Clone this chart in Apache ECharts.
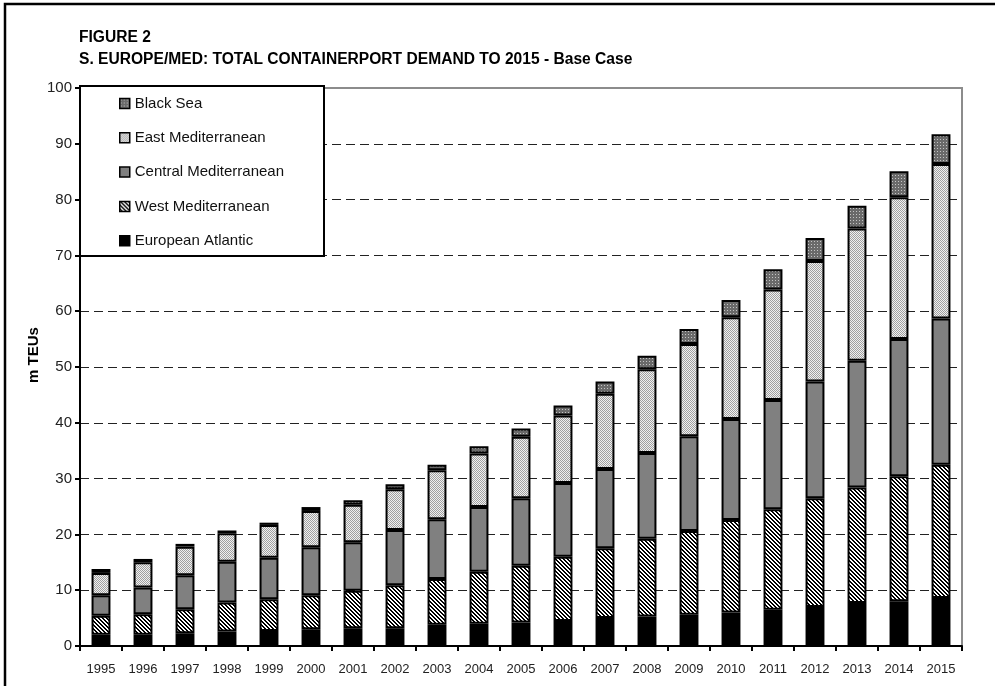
<!DOCTYPE html>
<html>
<head>
<meta charset="utf-8">
<script src="https://cdn.jsdelivr.net/npm/echarts@6/dist/echarts.min.js"></script>
<style>html,body{margin:0;padding:0;background:#fff}#c{width:995px;height:686px}</style>
</head>
<body>
<div id="c"></div>
<script>
const years = ['1995','1996','1997','1998','1999','2000','2001','2002','2003','2004','2005','2006','2007','2008','2009','2010','2011','2012','2013','2014','2015'];
const europeanAtlantic = [2.0, 2.0, 2.3, 2.6, 2.7, 3.0, 3.2, 3.2, 3.8, 4.0, 4.2, 4.5, 5.0, 5.3, 5.6, 6.0, 6.5, 7.0, 7.7, 8.0, 8.6];
const westMed = [3.4, 3.7, 4.3, 5.2, 5.7, 6.1, 6.7, 7.7, 8.2, 9.3, 10.2, 11.5, 12.5, 13.9, 15.0, 16.6, 18.0, 19.5, 20.7, 22.4, 23.9];
const centralMed = [3.7, 4.8, 6.1, 7.3, 7.4, 8.6, 8.7, 9.9, 10.7, 11.6, 12.1, 13.2, 14.2, 15.4, 17.0, 18.1, 19.6, 20.9, 22.7, 24.6, 26.2];
const eastMed = [4.0, 4.5, 5.1, 5.1, 5.9, 6.5, 6.7, 7.3, 8.8, 9.6, 11.0, 12.1, 13.5, 15.0, 16.5, 18.2, 19.8, 21.6, 23.7, 25.4, 27.7];
const blackSea = [0.7, 0.6, 0.5, 0.5, 0.4, 0.7, 0.8, 0.9, 1.0, 1.3, 1.5, 1.8, 2.2, 2.4, 2.7, 3.1, 3.6, 4.1, 4.1, 4.7, 5.3];
const yTicks = [0, 10, 20, 30, 40, 50, 60, 70, 80, 90, 100];

const FONT = '"Liberation Sans", Arial, sans-serif';

function makePattern(size, bg, draw) {
  const cv = document.createElement('canvas');
  cv.width = size; cv.height = size;
  const ctx = cv.getContext('2d');
  ctx.fillStyle = bg; ctx.fillRect(0, 0, size, size);
  draw(ctx);
  return { image: cv, repeat: 'repeat' };
}
const westPattern = makePattern(4, '#ffffff', ctx => {
  ctx.fillStyle = '#000';
  for (let i = 0; i < 4; i++) { ctx.fillRect(i, i, 1, 1); ctx.fillRect((i + 1) % 4, i, 1, 1); }
});
const eastPattern = makePattern(2, '#f0f0f0', ctx => {
  ctx.fillStyle = '#a0a0a0';
  ctx.fillRect(0, 0, 1, 1); ctx.fillRect(1, 1, 1, 1);
});
const blackSeaPattern = makePattern(3, '#6a6a6a', ctx => {
  ctx.fillStyle = '#c4c4c4';
  ctx.fillRect(1, 1, 1, 1);
});

const border = { borderColor: '#000', borderWidth: 2 };
function barSeries(name, data, color) {
  return { name, type: 'bar', stack: 'total', data, barWidth: '45%',
    itemStyle: Object.assign({ color }, border), emphasis: { disabled: true } };
}

const chart = echarts.init(document.getElementById('c'), null, { renderer: 'canvas' });
chart.setOption({
  backgroundColor: '#fff',
  animation: false,
  textStyle: { fontFamily: FONT },
  grid: { left: 80, right: 33, top: 88, bottom: 40, show: true, borderColor: '#8c8c8c', borderWidth: 2, backgroundColor: 'transparent' },
  legend: {
    orient: 'vertical', left: 119, top: 96, padding: 0, itemGap: 19.3,
    itemWidth: 10, itemHeight: 10, z: 20, icon: 'rect',
    data: ['Black Sea', 'East Mediterranean', 'Central Mediterranean', 'West Mediterranean', 'European Atlantic'],
    itemStyle: { borderColor: '#000', borderWidth: 1.5 },
    textStyle: { fontSize: 15, color: '#111', fontFamily: FONT, lineHeight: 15 },
    selectedMode: false
  },
  xAxis: {
    type: 'category', data: years,
    axisLine: { lineStyle: { color: '#000', width: 2 } },
    axisTick: { show: true, length: 5, lineStyle: { color: '#000', width: 2 } },
    axisLabel: { fontSize: 13, color: '#222', margin: 17, interval: 0, fontFamily: FONT }
  },
  yAxis: {
    type: 'value', min: yTicks[0], max: yTicks[yTicks.length - 1], interval: 10,
    axisLine: { show: true, lineStyle: { color: '#000', width: 2 } },
    axisTick: { show: true, length: 5, lineStyle: { color: '#000', width: 2 } },
    axisLabel: { fontSize: 15, color: '#222', margin: 8, fontFamily: FONT },
    splitLine: { show: true, showMinLine: false, showMaxLine: false, lineStyle: { color: '#222', width: 1, type: [9, 5] } }
  },
  graphic: [
    { type: 'rect', shape: { x: 5, y: 4, width: 1100, height: 800 }, style: { fill: 'none', stroke: '#000', lineWidth: 2.5 }, z: 1, silent: true },
    { type: 'text', x: 79, y: 38, style: { text: 'FIGURE 2', fontSize: 15.6, fontWeight: 'bold', fontFamily: FONT, fill: '#000', verticalAlign: 'middle' }, z: 5 },
    { type: 'text', x: 79, y: 60, style: { text: 'S. EUROPE/MED: TOTAL CONTAINERPORT DEMAND TO 2015 - Base Case', fontSize: 15.6, fontWeight: 'bold', fontFamily: FONT, fill: '#000', verticalAlign: 'middle' }, z: 5 },
    { type: 'text', x: 34, y: 355, rotation: Math.PI / 2, style: { text: 'm TEUs', fontSize: 15, fontWeight: 'bold', fontFamily: FONT, fill: '#000', align: 'center', verticalAlign: 'middle' }, z: 5 },
    { type: 'rect', shape: { x: 80, y: 86, width: 244, height: 170 }, style: { fill: '#fff', stroke: '#000', lineWidth: 2 }, z: 10, silent: true }
  ],
  series: [
    barSeries('European Atlantic', europeanAtlantic, '#000'),
    barSeries('West Mediterranean', westMed, westPattern),
    barSeries('Central Mediterranean', centralMed, '#808080'),
    barSeries('East Mediterranean', eastMed, eastPattern),
    barSeries('Black Sea', blackSea, blackSeaPattern)
  ]
});
</script>
</body>
</html>
